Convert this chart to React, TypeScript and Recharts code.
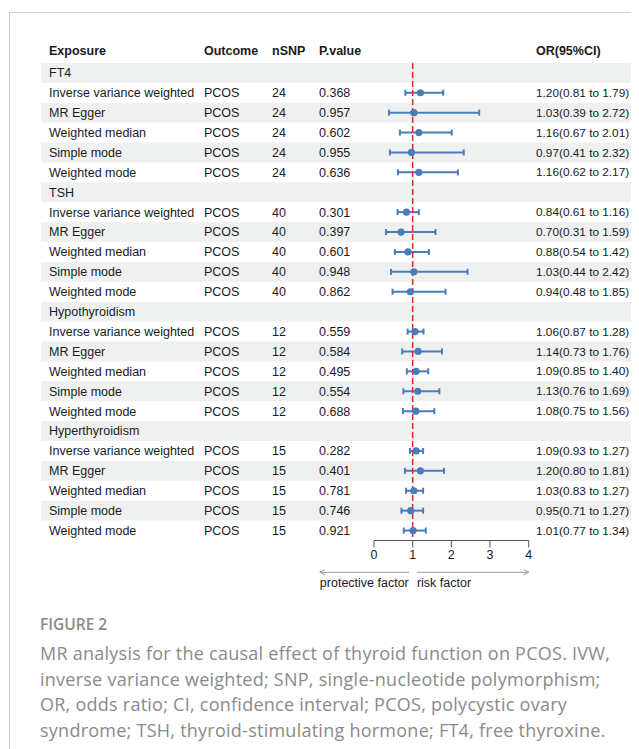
import React from 'react';
import {
  ScatterChart,
  Scatter,
  ErrorBar,
  XAxis,
  YAxis,
  ReferenceArea,
  ReferenceLine,
} from 'recharts';

// exposures and MR methods
const groups = ['FT4', 'TSH', 'Hypothyroidism', 'Hyperthyroidism'];
const methods = ['Inverse variance weighted', 'MR Egger', 'Weighted median', 'Simple mode', 'Weighted mode'];
const outcome = 'PCOS';
const nSnp = [24, 40, 12, 15];

const pValues = [
  ['0.368', '0.957', '0.602', '0.955', '0.636'],
  ['0.301', '0.397', '0.601', '0.948', '0.862'],
  ['0.559', '0.584', '0.495', '0.554', '0.688'],
  ['0.282', '0.401', '0.781', '0.746', '0.921'],
];
const orValues = [
  [1.2, 1.03, 1.16, 0.97, 1.16],
  [0.84, 0.7, 0.88, 1.03, 0.94],
  [1.06, 1.14, 1.09, 1.13, 1.08],
  [1.09, 1.2, 1.03, 0.95, 1.01],
];
const ciLow = [
  [0.81, 0.39, 0.67, 0.41, 0.62],
  [0.61, 0.31, 0.54, 0.44, 0.48],
  [0.87, 0.73, 0.85, 0.76, 0.75],
  [0.93, 0.8, 0.83, 0.71, 0.77],
];
const ciHigh = [
  [1.79, 2.72, 2.01, 2.32, 2.17],
  [1.16, 1.59, 1.42, 2.42, 1.85],
  [1.28, 1.76, 1.4, 1.69, 1.56],
  [1.27, 1.81, 1.27, 1.27, 1.34],
];
const xTicks = [0, 1, 2, 3, 4];
const headers = ['Exposure', 'Outcome', 'nSNP', 'P.value', 'OR(95%CI)'];

const captionTitle = 'FIGURE 2';
const captionLines = [
  'MR analysis for the causal effect of thyroid function on PCOS. IVW,',
  'inverse variance weighted; SNP, single-nucleotide polymorphism;',
  'OR, odds ratio; CI, confidence interval; PCOS, polycystic ovary',
  'syndrome; TSH, thyroid-stimulating hormone; FT4, free thyroxine.',
];

// build table rows (group header row + one row per method)
type Row = { row: number; label: string; group?: boolean; n?: number; p?: string; or?: number; lo?: number; hi?: number; err?: number[] };
const rows: Row[] = [];
groups.forEach((g, gi) => {
  rows.push({ row: rows.length, label: g, group: true });
  methods.forEach((m, mi) => {
    const or = orValues[gi][mi];
    const lo = ciLow[gi][mi];
    const hi = ciHigh[gi][mi];
    rows.push({ row: rows.length, label: m, n: nSnp[gi], p: pValues[gi][mi], or, lo, hi, err: [or - lo, hi - or] });
  });
});
const points = rows.filter((r) => !r.group);
const lastRow = rows.length - 0.5;
const rowTicks = [-1, ...rows.map((r) => r.row)];

const FONT = 'Arial, "Liberation Sans", Helvetica, sans-serif';
const BLUE = '#4a7bbb';
const COLS = [39, 194, 262, 309, 526];

const RowTick = (props: any) => {
  const { y, payload } = props;
  const v = payload.value;
  const style = { fontFamily: FONT, fontSize: 12.5, fill: '#1a1a1a' };
  if (v === -1) {
    return (
      <g>
        {headers.map((h, i) => (
          <text key={h} x={COLS[i]} y={y - 2} dy="0.35em" style={{ ...style, fontWeight: 700 }}>{h}</text>
        ))}
      </g>
    );
  }
  const r = rows[v];
  if (!r) return null;
  if (r.group) {
    return <text x={COLS[0]} y={y} dy="0.35em" style={style}>{r.label}</text>;
  }
  const cells = [
    r.label,
    outcome,
    String(r.n),
    r.p,
    `${r.or!.toFixed(2)}(${r.lo!.toFixed(2)} to ${r.hi!.toFixed(2)})`,
  ];
  return (
    <g>
      {cells.map((c, i) => (
        <text key={i} x={COLS[i]} y={y} dy="0.35em" style={i === 4 ? { ...style, fontSize: 11.8 } : style}>{c}</text>
      ))}
    </g>
  );
};

const ArrowShape = ({ x1, y1, x2, text, left }: any) => {
  const tip = left ? x1 : x2;
  const d = left ? 5 : -5;
  return (
    <g>
      <line x1={x1} y1={y1} x2={x2} y2={y1} stroke="#999" strokeWidth={1} />
      <polyline points={`${tip + d},${y1 - 2.5} ${tip},${y1} ${tip + d},${y1 + 2.5}`} fill="none" stroke="#999" strokeWidth={1} />
      <text x={x1} y={y1 + 15} style={{ fontFamily: FONT, fontSize: 12.5, fill: '#1a1a1a' }}>{text}</text>
    </g>
  );
};

export default function App() {
  return (
    <div style={{ paddingTop: 4 }}>
      <style>{'html,body{overflow:hidden;background:#fff}'}</style>
      <div
        style={{
          position: 'relative',
          width: 630,
          height: 760,
          marginLeft: 1,
          borderLeft: '1px solid #cfcfcf',
          borderTop: '1px solid #cfcfcf',
          background: '#fff',
        }}
      >
        <ScatterChart width={629} height={590} margin={{ top: 30, right: 0, bottom: 22.5, left: 0 }}>
          <XAxis
            type="number"
            dataKey="or"
            domain={[-8.611, 6.853]}
            allowDataOverflow
            ticks={xTicks}
            interval={0}
            axisLine={false}
            tickLine={{ stroke: '#555' }}
            tickSize={7}
            tickMargin={3}
            height={40}
            tick={{ fontFamily: FONT, fontSize: 12.5, fill: '#1a1a1a' }}
          />
          <YAxis
            type="number"
            dataKey="row"
            domain={[-1.5, lastRow]}
            allowDataOverflow
            reversed
            ticks={rowTicks}
            interval={0}
            axisLine={false}
            tickLine={false}
            width={31}
            tick={RowTick}
          />
          {rows
            .filter((r) => r.row % 2 === 0)
            .map((r) => (
              <ReferenceArea
                key={r.row}
                y1={r.row - 0.5}
                y2={r.row + 0.5}
                fill="#eff1f1"
                fillOpacity={1}
                stroke="none"
                ifOverflow="visible"
              />
            ))}
          <ReferenceLine
            segment={[{ x: 0, y: lastRow }, { x: 4, y: lastRow }]}
            stroke="#555"
            ifOverflow="visible"
          />
          <Scatter
            data={points}
            isAnimationActive={false}
            shape={(p: any) => <circle cx={p.cx} cy={p.cy} r={3.6} fill={BLUE} />}
          >
            <ErrorBar dataKey="err" direction="x" width={3} stroke={BLUE} strokeWidth={2} />
          </Scatter>
          <ReferenceLine
            segment={[{ x: 1, y: -0.5 }, { x: 1, y: lastRow }]}
            stroke="#e3262b"
            strokeDasharray="6 3"
            strokeWidth={1.5}
            ifOverflow="visible"
          />
          <ReferenceLine
            segment={[{ x: -1.4, y: 25.1 }, { x: 0.905, y: 25.1 }]}
            ifOverflow="visible"
            shape={(p: any) => <ArrowShape {...p} left text="protective factor" />}
          />
          <ReferenceLine
            segment={[{ x: 1.11, y: 25.1 }, { x: 4, y: 25.1 }]}
            ifOverflow="visible"
            shape={(p: any) => <ArrowShape {...p} text="risk factor" />}
          />
        </ScatterChart>

        <div
          style={{
            position: 'absolute',
            left: 30,
            top: 601,
            fontFamily: '"Open Sans", sans-serif',
            color: '#8a8a8a',
          }}
        >
          <div style={{ fontSize: 15.5, fontWeight: 600, lineHeight: '20px', height: 27 }}>{captionTitle}</div>
          {captionLines.map((l) => (
            <div key={l} style={{ fontSize: 18, letterSpacing: 0.25, lineHeight: '25.6px', whiteSpace: 'nowrap' }}>{l}</div>
          ))}
        </div>
      </div>
    </div>
  );
}
